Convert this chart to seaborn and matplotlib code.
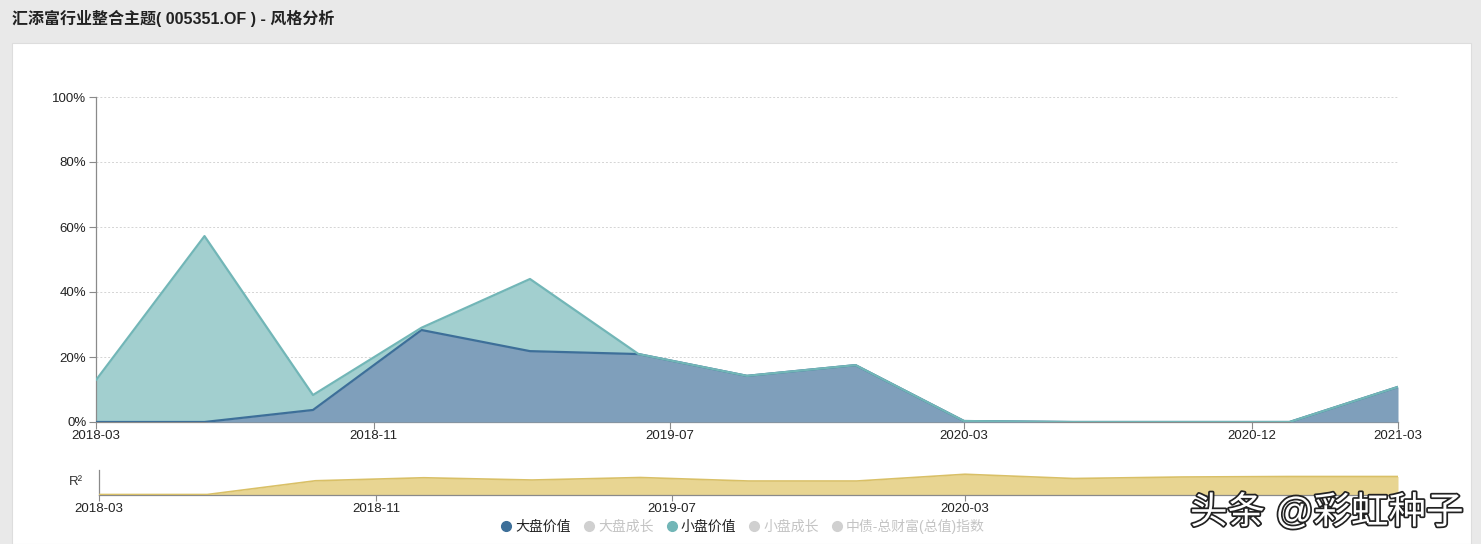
import numpy as np
import pandas as pd
import matplotlib
matplotlib.use("Agg")
import matplotlib.pyplot as plt
import matplotlib.patheffects as pe
from matplotlib.patches import Rectangle
from matplotlib.lines import Line2D
import seaborn as sns

# quarterly points, 2018-03 .. 2021-03
quarters = ["2018-03", "2018-06", "2018-09", "2018-12", "2019-03", "2019-06", "2019-09",
            "2019-12", "2020-03", "2020-06", "2020-09", "2020-12", "2021-03"]
big_value = [0.0, 0.0, 3.7, 28.3, 21.8, 20.9, 14.2, 17.5, 0.3, 0.0, 0.0, 0.0, 10.8]
small_value = [12.9, 57.2, 4.6, 0.7, 22.2, 0.0, 0.0, 0.0, 0.0, 0.0, 0.0, 0.0, 0.0]
r2 = [0.02, 0.02, 0.57, 0.69, 0.60, 0.70, 0.56, 0.56, 0.83, 0.66, 0.72, 0.74, 0.74]

# axis labels (positions are in quarter units)
tick_labels = ["2018-03", "2018-11", "2019-07", "2020-03", "2020-12", "2021-03"]
tick_pos = [0, 2.56, 5.29, 8, 10.65, 12]
mini_labels = ["2018-03", "2018-11", "2019-07", "2020-03"]
legend_names = ["大盘价值", "大盘成长", "小盘价值", "小盘成长", "中债-总财富(总值)指数"]

df = pd.DataFrame({"q": np.arange(len(quarters)), "big": big_value, "small": small_value, "r2": r2})
df["total"] = df["big"] + df["small"]

sns.set_theme(style="white")
plt.rcParams["font.family"] = ["Liberation Sans", "Noto Sans CJK SC", "DejaVu Sans"]

blue_line, blue_fill = "#3d6f99", "#7f9fbb"
teal_line, teal_fill = "#72b6b7", "#a2cfcf"
grey_txt = "#c4c4c4"

W, H = 1481, 544
fig = plt.figure(figsize=(W / 100, H / 100), dpi=100)
fig.patch.set_facecolor("#e9e9e9")
fig.patches.append(Rectangle((12 / W, 0), (1471 - 12) / W, 1 - 43 / H,
                             transform=fig.transFigure, facecolor="white",
                             edgecolor="#dddddd", lw=0.8, zorder=-5))
fig.text(12 / W, 1 - 18 / H, "汇添富行业整合主题( 005351.OF ) - 风格分析",
         fontsize=11.5, fontweight="bold", va="center", ha="left", color="#222222")

# main style chart
ax = fig.add_axes([96 / W, 1 - 422 / H, (1398 - 96) / W, (422 - 97) / H])
ax.set_facecolor("none")
ax.fill_between(df["q"], df["big"], df["total"], color=teal_fill, lw=0, zorder=2)
ax.fill_between(df["q"], 0, df["big"], color=blue_fill, lw=0, zorder=3)
sns.lineplot(data=df, x="q", y="big", ax=ax, color=blue_line, lw=1.6, zorder=4)
sns.lineplot(data=df, x="q", y="total", ax=ax, color=teal_line, lw=1.6, zorder=5)
ax.set_xlim(0, 12)
ax.set_ylim(0, 100)
ax.set_yticks([0, 20, 40, 60, 80, 100])
ax.set_yticklabels([f"{v}%" for v in range(0, 101, 20)])
ax.set_xticks(tick_pos)
ax.set_xticklabels(tick_labels)
ax.set_xlabel("")
ax.set_ylabel("")
for y in [20, 40, 60, 80, 100]:
    ax.axhline(y, color="#d4d4d4", lw=0.7, ls=(0, (2, 2)), zorder=1)
for s in ["top", "right"]:
    ax.spines[s].set_visible(False)
for s in ["left", "bottom"]:
    ax.spines[s].set_color("#8a8a8a")
    ax.spines[s].set_linewidth(0.9)
ax.tick_params(axis="both", which="both", length=5, width=0.8, color="#8a8a8a",
               labelsize=9.5, labelcolor="#222222", pad=2, direction="out")
ax.tick_params(axis="x", pad=1)
ax.tick_params(left=True, bottom=True)

# R² brush chart
ax2 = fig.add_axes([99 / W, 1 - 495 / H, (1398 - 99) / W, (495 - 470) / H])
ax2.set_facecolor("none")
ax2.fill_between(df["q"], 0, df["r2"], color="#e8d592", lw=0, zorder=2)
sns.lineplot(data=df, x="q", y="r2", ax=ax2, color="#d9c067", lw=1.2, zorder=3)
ax2.set_xlim(0, 12)
ax2.set_ylim(0, 1)
ax2.set_yticks([])
ax2.set_xticks(tick_pos[:4])
ax2.set_xticklabels(mini_labels)
ax2.set_xlabel("")
ax2.set_ylabel("")
for s in ["top", "right"]:
    ax2.spines[s].set_visible(False)
for s in ["left", "bottom"]:
    ax2.spines[s].set_color("#8a8a8a")
    ax2.spines[s].set_linewidth(0.9)
ax2.tick_params(axis="x", length=4, width=0.8, color="#8a8a8a", labelsize=9.5,
                labelcolor="#222222", pad=2, bottom=True)
fig.text(76 / W, 1 - 482 / H, "R²", fontsize=9.5, ha="center", va="center", color="#333333")

# legend
dot_colors = [blue_line, "#d0d0d0", teal_line, "#d0d0d0", "#d0d0d0"]
handles = [Line2D([], [], marker="o", ls="", markersize=7, color=c) for c in dot_colors]
leg = fig.legend(handles, legend_names, loc="center", bbox_to_anchor=(742 / W, 1 - 526 / H),
                 ncol=5, frameon=False, fontsize=10, handletextpad=0.15, columnspacing=0.8,
                 handlelength=1.0)
for t, c in zip(leg.get_texts(), ["#222222", grey_txt, "#222222", grey_txt, grey_txt]):
    t.set_color(c)

# watermark
fig.text(1190 / W, 1 - 513 / H, "头条 @彩虹种子", fontsize=27, color="white",
         ha="left", va="center",
         path_effects=[pe.withStroke(linewidth=2.5, foreground="#222222")])

fig.savefig("out.png", dpi=100, facecolor=fig.get_facecolor())
